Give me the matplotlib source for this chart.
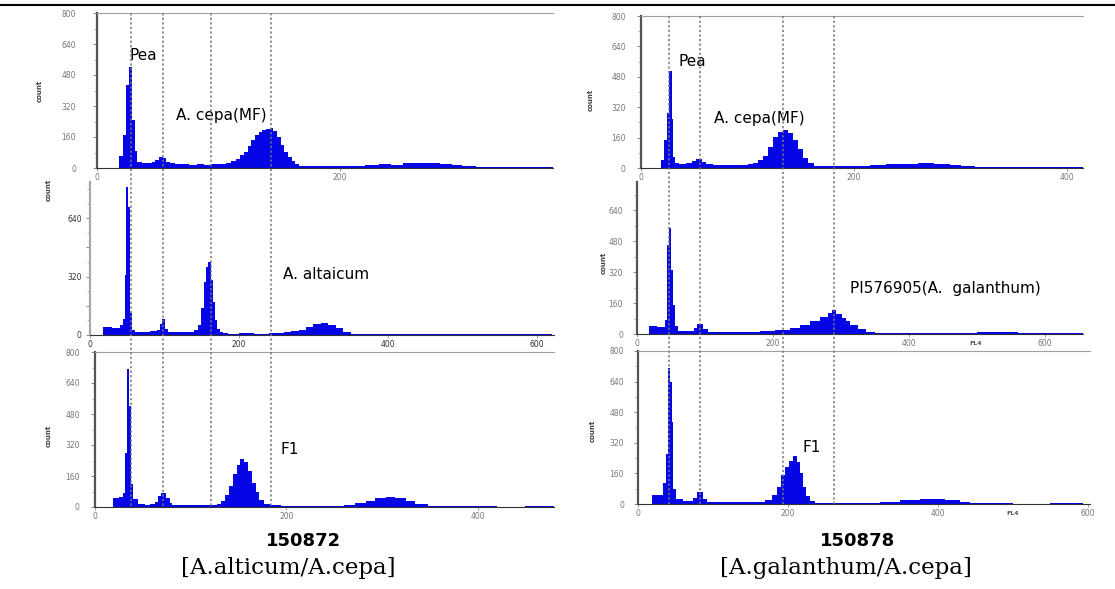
import matplotlib
matplotlib.use('Agg')
import matplotlib.pyplot as plt
from matplotlib.lines import Line2D
from matplotlib.ticker import MultipleLocator

W, H = 1115, 589

# flow cytometry histograms: bin edges (channel) and counts per bin
# left column, 150872: A. cepa / A. altaicum / F1
l1_edges = [18, 21, 24, 26, 29, 31, 33, 37, 41, 45, 48, 51, 54, 57, 60, 64, 70, 76, 82, 88,
            94, 100, 106, 110, 114, 118, 121, 124, 127, 130, 133, 136, 139, 142, 145, 148, 151, 154, 157, 160,
            163, 166, 172, 180, 190, 200, 210, 220, 232, 242, 252, 262, 272, 282, 292, 300, 312, 330, 350, 375]
l1_counts = [60, 170, 430, 520, 250, 90, 32, 28, 24, 30, 42, 55, 50, 30, 24, 20, 22, 17, 20, 16,
             22, 20, 28, 35, 45, 65, 85, 115, 145, 170, 185, 195, 200, 208, 190, 160, 120, 85, 55, 35,
             20, 12, 9, 11, 8, 12, 10, 14, 20, 18, 24, 28, 26, 22, 18, 10, 5, 3, 4]

l2_edges = [18, 30, 40, 44, 47, 49, 51, 54, 56, 60, 70, 80, 90, 94, 97, 101, 105, 112, 120, 130,
            140, 145, 149, 153, 156, 159, 162, 165, 168, 171, 174, 178, 185, 200, 220, 240, 260, 270, 280, 290,
            300, 310, 320, 330, 340, 350, 380, 420, 460, 500, 540, 580, 620]
l2_counts = [42, 38, 55, 90, 330, 810, 700, 120, 25, 18, 14, 20, 28, 60, 88, 35, 15, 18, 14, 16,
             25, 55, 150, 290, 370, 400, 300, 180, 80, 35, 15, 10, 8, 10, 7, 10, 14, 20, 30, 45,
             60, 64, 55, 38, 18, 7, 4, 5, 3, 4, 3, 5]

l3_edges = [19, 25, 29, 31, 33, 36, 38, 40, 45, 52, 58, 63, 66, 69, 74, 78, 81, 90, 100, 110,
            120, 128, 132, 136, 140, 144, 148, 152, 156, 160, 164, 168, 172, 177, 183, 195, 210, 225, 240, 250,
            260, 272, 283, 293, 304, 314, 325, 335, 348, 362, 390, 420, 450, 480]
l3_counts = [45, 50, 70, 280, 710, 520, 120, 40, 15, 12, 15, 28, 55, 72, 45, 22, 12, 10, 8, 9,
             12, 14, 30, 60, 110, 170, 215, 248, 230, 185, 125, 75, 38, 16, 8, 6, 5, 6, 5, 7,
             12, 22, 33, 45, 52, 44, 30, 14, 6, 3, 4, 2, 3]

# right column, 150878: A. cepa / PI576905 (A. galanthum) / F1
r1_edges = [19, 22, 24, 26, 29, 30, 32, 36, 42, 48, 52, 57, 61, 68, 76, 84, 92, 100, 105, 110,
            115, 119, 124, 129, 133, 138, 143, 147, 152, 157, 162, 172, 185, 200, 215, 230, 245, 260, 275, 290,
            300, 314, 337, 370, 415]
r1_counts = [40, 150, 290, 510, 260, 60, 25, 22, 28, 38, 48, 30, 20, 16, 18, 15, 18, 20, 25, 40,
             65, 110, 165, 190, 200, 185, 145, 100, 55, 25, 12, 9, 11, 10, 17, 20, 22, 25, 20, 14,
             9, 5, 3, 4]

r2_edges = [18, 30, 41, 44, 47, 50, 53, 56, 60, 70, 84, 88, 97, 104, 120, 140, 160, 181, 203, 225,
            240, 254, 269, 281, 287, 293, 301, 307, 313, 325, 337, 350, 380, 420, 460, 500, 530, 560, 600, 656]
r2_counts = [42, 38, 70, 460, 545, 330, 150, 40, 18, 15, 30, 50, 25, 10, 8, 10, 12, 15, 22, 30,
             45, 65, 90, 110, 125, 105, 85, 65, 45, 25, 12, 5, 4, 6, 5, 10, 8, 6, 3]

r3_edges = [19, 26, 33, 37, 40, 43, 45, 47, 51, 60, 73, 79, 87, 92, 110, 130, 150, 169, 179, 185,
            191, 196, 201, 207, 212, 216, 220, 224, 229, 236, 260, 290, 323, 349, 376, 409, 429, 443, 456, 500,
            550, 593]
r3_counts = [45, 48, 110, 260, 712, 640, 430, 80, 25, 18, 30, 62, 25, 10, 8, 9, 12, 20, 45, 90,
             150, 195, 225, 252, 220, 160, 90, 40, 15, 6, 5, 7, 12, 20, 28, 20, 10, 5, 3, 2,
             3]

# dotted guide lines, in channels of the top panel of each column
left_guides = [28, 54, 94, 143]
right_guides = [26, 55, 133, 181]

fig = plt.figure(figsize=(W / 100, H / 100), dpi=100)
blue = '#0505e6'


def panel(x0, x1, y_top, y_bot, xmax, ymax):
    ax = fig.add_axes([x0 / W, 1 - y_bot / H, (x1 - x0) / W, (y_bot - y_top) / H])
    ax.set_xlim(0, xmax)
    ax.set_ylim(0, ymax)
    return ax


def style(ax, yticks, ylabels, xticks, top=True, axcol='#555555', lab_col='#777777', ypad=8):
    ax.spines['right'].set_visible(False)
    ax.spines['top'].set_visible(top)
    ax.spines['top'].set_color('#a0a0a0')
    ax.spines['top'].set_linewidth(0.8)
    ax.spines['left'].set_color(axcol)
    ax.spines['left'].set_linewidth(1.6)
    ax.spines['bottom'].set_color('#333333')
    ax.spines['bottom'].set_linewidth(0.8)
    ax.set_yticks(yticks)
    ax.set_yticklabels(ylabels)
    ax.yaxis.set_minor_locator(MultipleLocator(80))
    ax.tick_params(axis='y', which='major', length=3, width=0.6, color='#777777',
                   labelsize=5.5, labelcolor=lab_col, pad=ypad)
    ax.tick_params(axis='y', which='minor', length=2, width=0.5, color='#999999')
    ax.set_xticks(xticks)
    ax.set_xticklabels([str(t) for t in xticks])
    ax.tick_params(axis='x', length=2, width=0.5, color='#777777',
                   labelsize=5.5, labelcolor=lab_col, pad=1.5)


def count_label(ax, x, y):
    ax.set_ylabel('count', fontsize=5, fontweight='bold', color='#444444')
    ax.yaxis.set_label_coords(x, y)


def guides(ax, channels, y_top, y_bot):
    for ch in channels:
        xf = fig.transFigure.inverted().transform(ax.transData.transform((ch, 0)))[0]
        fig.add_artist(Line2D([xf, xf], [1 - y_top / H, 1 - y_bot / H], transform=fig.transFigure,
                              color='#777777', lw=1.1, ls=(0, (1.5, 1.5)), zorder=5))


ticks800 = [0, 160, 320, 480, 640, 800]
lab800 = [str(t) for t in ticks800]

# left column
ax_l1 = panel(97, 553, 13, 168, 375, 800)
ax_l1.stairs(l1_counts, l1_edges, fill=True, color=blue, lw=0)
style(ax_l1, ticks800, lab800, [0, 200], ypad=12)
count_label(ax_l1, -0.118, 0.5)
ax_l1.text(27, 582, 'Pea', fontsize=11, va='center')
ax_l1.text(65, 273, 'A. cepa(MF)', fontsize=11, va='center')

ax_l2 = panel(90, 554, 182, 335, 623, 838)
ax_l2.stairs(l2_counts, l2_edges, fill=True, color=blue, lw=0)
style(ax_l2, [0, 160, 320, 480, 640], ['0', '', '320', '', '640'], [0, 200, 400, 600],
      top=False, axcol='#a8a8a8', lab_col='#333333', ypad=3)
count_label(ax_l2, -0.082, 0.95)
ax_l2.text(259, 334, 'A. altaicum', fontsize=11, va='center')

ax_l3 = panel(95, 554, 352, 507, 480, 800)
ax_l3.stairs(l3_counts, l3_edges, fill=True, color=blue, lw=0)
style(ax_l3, ticks800, lab800, [0, 200, 400], ypad=8)
count_label(ax_l3, -0.094, 0.46)
ax_l3.text(194, 299, 'F1', fontsize=11, va='center')

# right column
ax_r1 = panel(641, 1083, 16, 168, 415, 800)
ax_r1.stairs(r1_counts, r1_edges, fill=True, color=blue, lw=0)
style(ax_r1, ticks800, lab800, [0, 200, 400], ypad=8)
count_label(ax_r1, -0.106, 0.45)
ax_r1.text(35, 558, 'Pea', fontsize=11, va='center')
ax_r1.text(69, 263, 'A. cepa(MF)', fontsize=11, va='center')

ax_r2 = panel(637, 1083, 182, 334, 656, 785)
ax_r2.stairs(r2_counts, r2_edges, fill=True, color=blue, lw=0)
style(ax_r2, [0, 160, 320, 480, 640], ['0', '160', '320', '480', '640'], [0, 200, 400, 600],
      top=False, ypad=7)
count_label(ax_r2, -0.067, 0.47)
ax_r2.text(313, 237, 'PI576905(A.  galanthum)', fontsize=11, va='center')
ax_r2.text(0.76, -0.06, 'FL4', transform=ax_r2.transAxes, fontsize=4.5, fontweight='bold',
           color='#555555', ha='center', va='center')

ax_r3 = panel(638, 1090, 351, 504, 603, 800)
ax_r3.stairs(r3_counts, r3_edges, fill=True, color=blue, lw=0)
style(ax_r3, ticks800, lab800, [0, 200, 400, 600], ypad=7)
count_label(ax_r3, -0.093, 0.48)
ax_r3.text(220, 298, 'F1', fontsize=11, va='center')
ax_r3.text(0.83, -0.06, 'FL4', transform=ax_r3.transAxes, fontsize=4.5, fontweight='bold',
           color='#555555', ha='center', va='center')

guides(ax_l1, left_guides, 13, 507)
guides(ax_r1, right_guides, 16, 504)

# rule at the very top
fig.add_artist(Line2D([0, 1], [1 - 5 / H, 1 - 5 / H], transform=fig.transFigure, color='black', lw=1.5))

fig.text(303 / W, 1 - 541 / H, '150872', ha='center', va='center', fontsize=13, fontweight='bold')
fig.text(858 / W, 1 - 541 / H, '150878', ha='center', va='center', fontsize=13, fontweight='bold')
fig.text(288 / W, 1 - 568 / H, '[A.alticum/A.cepa]', ha='center', va='center', fontsize=16.5,
         family='DejaVu Serif')
fig.text(846 / W, 1 - 568 / H, '[A.galanthum/A.cepa]', ha='center', va='center', fontsize=16.5,
         family='DejaVu Serif')

fig.savefig('out.png', dpi=100)
